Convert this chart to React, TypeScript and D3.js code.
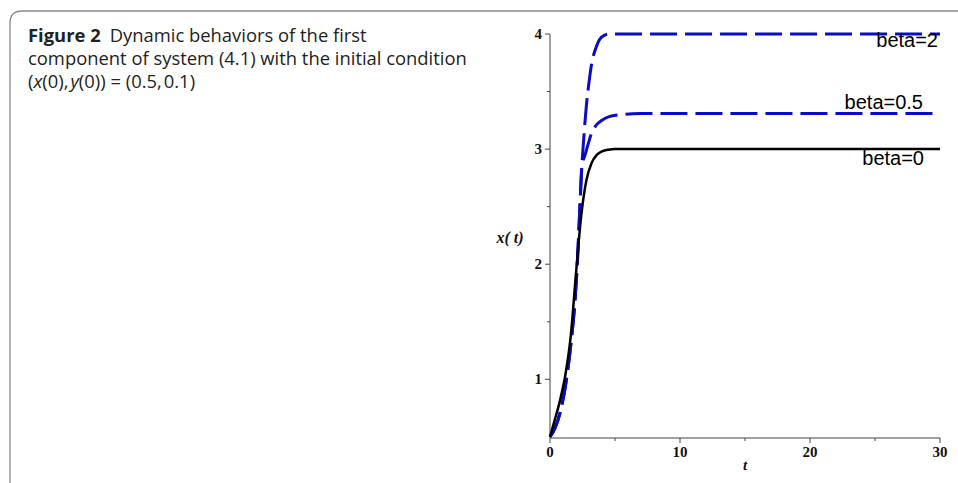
import React from "react";
import * as d3 from "d3";

// ---- data ----
const tBeta0 = [0, 0.4, 0.8, 1.2, 1.6, 2.0, 2.4, 2.8, 3.2, 3.6, 4.0, 4.5, 5, 6, 8, 30];
const xBeta0 = [0.5, 0.66, 0.83, 1.05, 1.38, 1.92, 2.42, 2.73, 2.88, 2.95, 2.98, 2.995, 3, 3, 3, 3];

const tBeta05 = [0, 0.4, 0.8, 1.2, 1.6, 1.9, 2.1, 2.3, 2.45, 2.7, 2.95, 3.2, 3.5, 4.0, 4.5, 5.5, 7, 30];
const xBeta05 = [0.5, 0.58, 0.72, 0.95, 1.3, 1.65, 2.0, 2.5, 2.85, 2.95, 3.05, 3.14, 3.2, 3.25, 3.28, 3.3, 3.31, 3.31];

const tBeta2 = [0, 0.4, 0.8, 1.2, 1.6, 1.9, 2.1, 2.3, 2.45, 2.6, 2.8, 3.0, 3.2, 3.5, 3.8, 4.2, 4.6, 5, 30];
const xBeta2 = [0.5, 0.58, 0.72, 0.95, 1.3, 1.65, 2.0, 2.5, 2.85, 3.1, 3.38, 3.58, 3.74, 3.87, 3.95, 3.99, 4, 4, 4];

const xTicks = [0, 10, 20, 30];
const xMinor = [5, 15, 25];
const yTicks = [1, 2, 3, 4];
const yMinor = [1.5, 2.5, 3.5];

const seriesLabels = ["beta=2", "beta=0.5", "beta=0"];
const captionBold = "Figure 2";
const captionLines = [
  "Dynamic behaviors of the first",
  "component of system (4.1) with the initial condition",
];

export default function App() {
  const W = 958;
  const H = 483;
  const x = d3.scaleLinear().domain([0, 30]).range([550, 940]);
  const y = d3.scaleLinear().domain([0.49, 4]).range([438, 34]);

  const mk = (ts: number[], vs: number[]) =>
    d3
      .line<number>()
      .x((_, i) => x(ts[i]))
      .y((v) => y(v))
      .curve(d3.curveMonotoneX)(vs) as string;

  const blue = "#0a0ac8";
  const tickFont = "'Liberation Serif', 'Times New Roman', serif";

  return (
    <svg
      width={W}
      height={H}
      style={{ position: "absolute", left: 0, top: 0, background: "#fff" }}
    >
      {/* frame */}
      <path d={`M10,${H + 5} L10,23 Q10,11 22,11 L${W + 5},11`} fill="none" stroke="#8a8a8a" strokeWidth={1.3} />

      {/* caption */}
      <g fontFamily="'Open Sans', 'Noto Sans', sans-serif" fontSize={18.4} fill="#222">
        <text x={28} y={42}>
          <tspan fontWeight="bold">{captionBold}</tspan>
          <tspan dx={9}>{captionLines[0]}</tspan>
        </text>
        <text x={28} y={65}>{captionLines[1]}</text>
        <text x={28} y={88}>
          <tspan>(</tspan>
          <tspan fontStyle="italic">x</tspan>
          <tspan>(0),</tspan>
          <tspan fontStyle="italic" dx={2}>y</tspan>
          <tspan>(0)) = (0.5,</tspan>
          <tspan dx={2}>0.1)</tspan>
        </text>
      </g>

      {/* axes */}
      <g stroke="#444" strokeWidth={1}>
        <line x1={x(0)} x2={x(30)} y1={y(0.49)} y2={y(0.49)} />
        <line x1={x(0)} x2={x(0)} y1={y(0.49)} y2={y(4)} />
        {xTicks.map((t) => (
          <line key={"xt" + t} x1={x(t)} x2={x(t)} y1={y(0.49)} y2={y(0.49) + 5} />
        ))}
        {xMinor.map((t) => (
          <line key={"xm" + t} x1={x(t)} x2={x(t)} y1={y(0.49)} y2={y(0.49) + 3} />
        ))}
        {yTicks.map((v) => (
          <line key={"yt" + v} x1={x(0) - 5} x2={x(0)} y1={y(v)} y2={y(v)} />
        ))}
        {yMinor.map((v) => (
          <line key={"ym" + v} x1={x(0) - 3} x2={x(0)} y1={y(v)} y2={y(v)} />
        ))}
      </g>
      <g fontFamily={tickFont} fontWeight="bold" fontSize={15} fill="#111">
        {xTicks.map((t) => (
          <text key={"xl" + t} x={x(t)} y={y(0.49) + 19} textAnchor="middle">
            {t}
          </text>
        ))}
        {yTicks.map((v) => (
          <text key={"yl" + v} x={x(0) - 8} y={y(v) + 5} textAnchor="end">
            {v}
          </text>
        ))}
        <text x={745} y={470} fontStyle="italic" textAnchor="middle">t</text>
        <text x={510} y={243} fontStyle="italic" textAnchor="middle" fontSize={16}>
          x( t)
        </text>
      </g>

      {/* curves */}
      <path d={mk(tBeta05, xBeta05)} fill="none" stroke={blue} strokeWidth={3} strokeDasharray="27 8" />
      <path d={mk(tBeta2, xBeta2)} fill="none" stroke={blue} strokeWidth={3} strokeDasharray="27 8" />
      <path d={mk(tBeta0, xBeta0)} fill="none" stroke="#000" strokeWidth={2.5} />

      {/* labels */}
      <g fontFamily="'Liberation Sans', Arial, sans-serif" fontSize={20} fill="#000">
        <text x={938} y={47} textAnchor="end">{seriesLabels[0]}</text>
        <text x={923} y={109} textAnchor="end">{seriesLabels[1]}</text>
        <text x={924} y={165} textAnchor="end">{seriesLabels[2]}</text>
      </g>
    </svg>
  );
}
